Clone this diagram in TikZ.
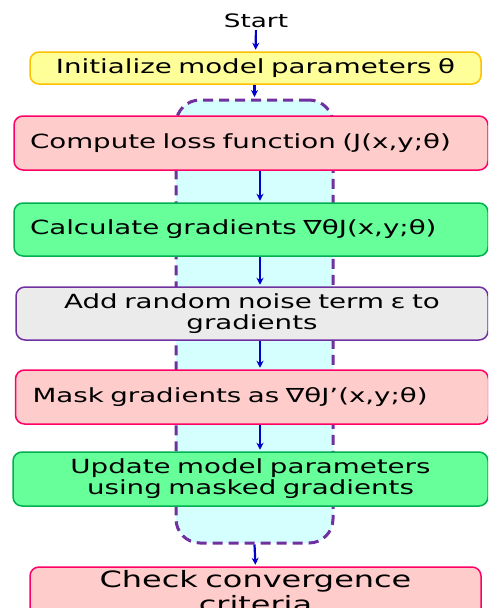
\documentclass[tikz,border=0pt]{standalone}
\usepackage{fontspec}
\setmainfont{DejaVu Sans}[FakeStretch=1.42]
\usetikzlibrary{arrows.meta}

\definecolor{fillyellow}{HTML}{FFFF99}
\definecolor{edgeyellow}{HTML}{FFC000}
\definecolor{fillpink}{HTML}{FFCCCC}
\definecolor{edgepink}{HTML}{FF0066}
\definecolor{fillgreen}{HTML}{66FF99}
\definecolor{edgegreen}{HTML}{00B050}
\definecolor{fillgray}{HTML}{EBEBEB}
\definecolor{edgepurple}{HTML}{7030A0}
\definecolor{fillcyan}{HTML}{D5FFFF}
\definecolor{arrowblue}{HTML}{0000CC}

\tikzset{
  stepbox/.style={draw, rounded corners=9pt, line width=1.5pt, inner xsep=16pt, inner ysep=2pt,
    font=\fontsize{19.5}{21}\selectfont, align=left},
  pinkbox/.style={stepbox, fill=fillpink, draw=edgepink},
  greenbox/.style={stepbox, fill=fillgreen, draw=edgegreen},
  graybox/.style={stepbox, fill=fillgray, draw=edgepurple},
  yellowbox/.style={stepbox, fill=fillyellow, draw=edgeyellow, inner xsep=14pt},
  loopbox/.style={draw=edgepurple, fill=fillcyan, line width=3pt, dash pattern=on 10pt off 6pt,
    rounded corners=24pt, inner sep=0pt},
  arr/.style={-{Stealth[length=7pt,width=7pt]}, draw=arrowblue, line width=2.2pt, shorten >=1.5pt}
}

\begin{document}
\begin{tikzpicture}[x=1pt,y=-1pt]
\useasboundingbox (0,0) rectangle (488,608);
\clip (0,0) rectangle (488,608);

% dashed frame round the repeated steps
\node[loopbox, minimum width=157pt, minimum height=443pt] (loop) at (254.5,321.5) {};

\node[font=\fontsize{18.5}{20}\selectfont, inner sep=2pt] (start) at (256,21) {Start};
\node[yellowbox, text width=423pt, minimum height=32pt, align=center] (init) at (255.5,68) {Initialize model parameters θ};

\node[pinkbox, text width=442pt, minimum height=54pt] (compute) at (251,143) {Compute loss function (J(x,y;θ)};
\node[greenbox, text width=442pt, minimum height=53pt] (calc) at (251,229.5) {Calculate gradients ∇θJ(x,y;θ)};
\node[graybox, text width=440pt, minimum height=53pt, align=center] (noise) at (252,313.5) {Add random noise term ε to\\gradients};
\node[pinkbox, text width=439pt, inner xsep=17pt, minimum height=54pt] (mask) at (252,397) {Mask gradients as ∇θJ’(x,y;θ)};
\node[greenbox, text width=443pt, minimum height=54pt, align=center] (update) at (250.5,479) {Update model parameters\\using masked gradients};
\node[pinkbox, text width=419pt, minimum height=50pt, align=center, font=\fontsize{22.5}{25}\selectfont] (check) at (255.5,592) {Check convergence\\criteria};

\coordinate (axis) at (260,0);

\draw[arr] (start) -- (init);
\draw[arr] (init.south -| loop.north) -- (loop.north);
\draw[arr] (compute.south -| axis) -- (calc.north -| axis);
\draw[arr] (calc.south -| axis) -- (noise.north -| axis);
\draw[arr] (noise.south -| axis) -- (mask.north -| axis);
\draw[arr] (mask.south -| axis) -- (update.north -| axis);
\draw[arr] (loop.south) -- (check.north);
\end{tikzpicture}
\end{document}
